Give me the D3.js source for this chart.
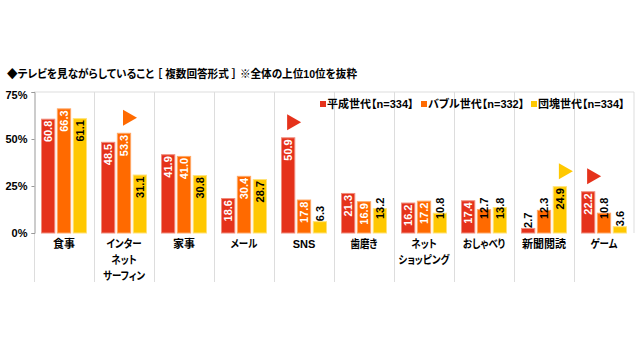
<!DOCTYPE html>
<html>
<head>
<meta charset="utf-8">
<script src="https://cdn.jsdelivr.net/npm/d3@7"></script>
<style>
  body { margin: 0; background: #fff; }
  text { font-family: "Liberation Sans", "Noto Sans CJK JP", sans-serif; font-weight: bold; font-feature-settings: "palt"; }
</style>
</head>
<body>
<div id="chart"></div>
<script>
// data
var categories = ['食事', 'インターネットサーフィン', '家事', 'メール', 'SNS', '歯磨き', 'ネットショッピング', 'おしゃべり', '新聞閲読', 'ゲーム'];
var catLabels = [['食事'], ['インター', 'ネット', 'サーフィン'], ['家事'], ['メール'], ['SNS'], ['歯磨き'], ['ネット', 'ショッピング'], ['おしゃべり'], ['新聞閲読'], ['ゲーム']];
var seriesNames = ['平成世代【n=334】', 'バブル世代【n=332】', '団塊世代【n=334】'];
var heisei = [60.8, 48.5, 41.9, 18.6, 50.9, 21.3, 16.2, 17.4, 2.7, 22.2];
var bubble = [66.3, 53.3, 41.0, 30.4, 17.8, 16.9, 17.2, 12.7, 12.3, 10.8];
var dankai = [61.1, 31.1, 30.8, 28.7, 6.3, 13.2, 10.8, 13.8, 24.9, 3.6];
var yTicks = [0, 25, 50, 75];
// highlighted bars (category index, series index)
var markers = [[1, 1], [4, 0], [8, 2], [9, 0]];

var colors = ['#e5321b', '#ff6a00', '#ffc800'];
var strokes = ['#f08c7c', '#ffa766', '#ffe27a'];
var textColors = ['#fff', '#fff', '#000'];

var W = 640, H = 360;
var svg = d3.select('#chart').append('svg').attr('width', W).attr('height', H);

var x0 = d3.scaleBand().domain(categories).range([34, 634]);
var x1 = d3.scaleBand().domain([0, 1, 2]).range([7, 53]).paddingInner(0.1);
var y = d3.scaleLinear().domain([0, 75]).range([233, 92]);

// title
svg.append('text').attr('x', 7).attr('y', 78).attr('font-size', 11.5)
  .attr('textLength', 350).attr('lengthAdjust', 'spacingAndGlyphs')
  .text('◆テレビを見ながらしていること ［ 複数回答形式 ］ ※全体の上位10位を抜粋');

// frame and dividers
svg.append('line').attr('x1', 34).attr('x2', 634).attr('y1', 92).attr('y2', 92).attr('stroke', '#ddd');
svg.append('line').attr('x1', 634).attr('x2', 634).attr('y1', 92).attr('y2', 233).attr('stroke', '#ddd');
categories.forEach(function(c, i) {
  if (i === 0) return;
  svg.append('line').attr('x1', x0(c) + 0.5).attr('x2', x0(c) + 0.5)
    .attr('y1', 92).attr('y2', 282).attr('stroke', '#ddd');
});
svg.append('line').attr('x1', 34.5).attr('x2', 34.5).attr('y1', 233).attr('y2', 282).attr('stroke', '#ddd');

// y axis
var yaxis = d3.axisLeft(y).tickValues(yTicks).tickSize(3).tickFormat(function(d) { return d + '%'; });
var ga = svg.append('g').attr('transform', 'translate(34.5,0)').call(yaxis);
ga.select('.domain').attr('stroke', '#999');
ga.selectAll('.tick line').attr('stroke', '#999');
ga.selectAll('.tick text').attr('font-size', 11).attr('x', -7).attr('fill', '#000');
ga.selectAll('.tick text').filter(function(d) { return d === 75; }).attr('dy', '0.6em');

// bars
var series = [heisei, bubble, dankai];
var bars = [];
categories.forEach(function(c, i) {
  series.forEach(function(s, k) {
    bars.push({ cat: c, i: i, k: k, v: s[i] });
  });
});

var g = svg.append('g');
g.selectAll('rect').data(bars).enter().append('rect')
  .attr('x', function(d) { return x0(d.cat) + x1(d.k) + 0.5; })
  .attr('y', function(d) { return y(d.v) + 0.5; })
  .attr('width', x1.bandwidth() - 1)
  .attr('height', function(d) { return Math.max(0, y(0) - y(d.v) - 0.5); })
  .attr('fill', function(d) { return colors[d.k]; })
  .attr('stroke', function(d) { return strokes[d.k]; });

// value labels (rotated)
function inside(d) { return y(0) - y(d.v) > 28; }
g.selectAll('text.val').data(bars).enter().append('text')
  .attr('class', 'val')
  .attr('font-size', 11)
  .attr('transform', function(d) {
    var cx = x0(d.cat) + x1(d.k) + x1.bandwidth() / 2 + 4;
    var h = y(0) - y(d.v);
    var ty = inside(d) ? y(d.v) + 2 : y(d.v) + Math.max(0, h - 14);
    return 'translate(' + cx + ',' + ty + ') rotate(-90)';
  })
  .attr('text-anchor', function(d) { return inside(d) ? 'end' : 'start'; })
  .attr('fill', function(d) { return inside(d) ? textColors[d.k] : '#000'; })
  .text(function(d) { return d.v.toFixed(1); });

// highlight triangles
g.selectAll('path.mark').data(markers).enter().append('path')
  .attr('class', 'mark')
  .attr('fill', function(d) { return colors[d[1]]; })
  .attr('d', function(d) {
    var c = categories[d[0]];
    var cx = x0(c) + x1(d[1]) + x1.bandwidth() / 2 - 1;
    var bottom = y(series[d[1]][d[0]]) - 7;
    return 'M' + cx + ',' + (bottom - 16) + 'L' + (cx + 14) + ',' + (bottom - 8) + 'L' + cx + ',' + bottom + 'Z';
  });

// category labels (kana lines squeezed a bit, the original font is proportional)
var kana = /[\u30a0-\u30ff\u3040-\u309f]/;
categories.forEach(function(c, i) {
  var cx = x0(c) + x0.bandwidth() / 2;
  catLabels[i].forEach(function(line, j) {
    var t = svg.append('text').attr('text-anchor', 'middle').attr('font-size', 11)
      .attr('x', cx).attr('y', 248 + j * 16).text(line);
    if (kana.test(line)) {
      var w = t.node().getComputedTextLength();
      t.attr('textLength', w * 0.86).attr('lengthAdjust', 'spacingAndGlyphs');
    }
  });
});

// legend
var legendX = [320, 421, 531];
seriesNames.forEach(function(n, k) {
  svg.append('rect').attr('x', legendX[k]).attr('y', 101).attr('width', 6).attr('height', 6).attr('fill', colors[k]);
  svg.append('text').attr('x', legendX[k] + 7).attr('y', 108).attr('font-size', 11).text(n);
});
</script>
</body>
</html>
